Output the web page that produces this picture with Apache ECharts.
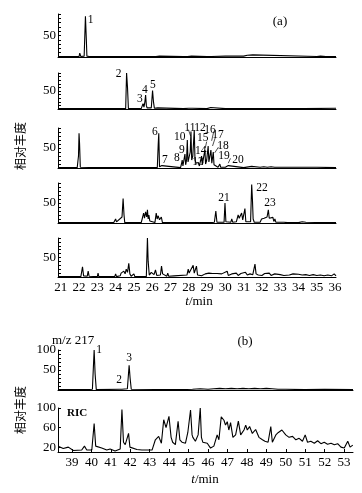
<!DOCTYPE html>
<html>
<head>
<meta charset="utf-8">
<script src="https://cdn.jsdelivr.net/npm/echarts@6/dist/echarts.min.js"></script>
<style>
  html, body { margin: 0; padding: 0; background: #fff; }
  #chart { width: 362px; height: 493px; }
</style>
</head>
<body>
<div id="chart"></div>
<script>
// 刻度
var xTicksA = [21, 22, 23, 24, 25, 26, 27, 28, 29, 30, 31, 32, 33, 34, 35, 36]
var xTicksB = [39, 40, 41, 42, 43, 44, 45, 46, 47, 48, 49, 50, 51, 52, 53]
var yTicks = [0, 10, 20, 30, 40, 50, 60, 70, 80, 90, 100]
var yLabelsA = [50]
var yLabelsB1 = [50, 100]
var yLabelsB2 = [20, 60, 100]

// (a) 五段色谱图 [t, 相对丰度]
var trace1 = [[20.85,1],[22.0,1],[22.04,9],[22.1,1],[22.28,2],[22.35,95],[22.4,40],[22.43,2],[22.5,4],[22.55,1],[23.3,1],[23.33,4],[23.36,1],[24.43,1],[24.45,4],[24.48,1],[26.2,1],[26.3,3],[26.4,2],[27.7,1],[27.72,4],[27.75,1],[27.93,1],[27.95,5],[27.98,1],[28.15,2],[28.2,6],[28.25,2],[29.0,1],[29.03,5],[29.06,1],[29.25,1],[29.27,4],[29.3,2],[30.0,2],[31.0,2],[31.2,4],[31.25,1],[31.5,5],[31.55,1],[35.0,1],[35.2,2],[35.5,1],[36.05,1]]
var trace2 = [[20.85,1],[24.0,1],[24.07,5],[24.12,1],[24.55,1],[24.6,100],[24.65,60],[24.7,1],[25.4,1],[25.45,8],[25.5,15],[25.55,5],[25.6,20],[25.64,39],[25.68,10],[25.72,3],[25.95,3],[26.02,51],[26.07,20],[26.12,2],[26.3,3],[26.35,1],[27.7,1],[28.0,2],[28.1,4],[28.2,2],[29.0,1],[29.03,4],[29.06,1],[29.2,4],[29.25,1],[30.0,1],[34.3,1],[34.4,2],[36.05,2]]
var trace3 = [[20.85,1],[21.9,1],[21.97,30],[22.0,87],[22.03,60],[22.07,2],[23.0,1],[23.03,4],[23.06,1],[24.4,1],[24.43,3],[24.46,1],[26.28,1],[26.33,60],[26.36,87],[26.4,3],[26.5,1],[26.53,6],[26.56,1],[27.55,1],[27.6,10],[27.64,20],[27.68,5],[27.75,10],[27.79,35],[27.83,8],[27.88,20],[27.92,70],[27.96,15],[28.02,10],[28.08,40],[28.12,91],[28.16,20],[28.22,30],[28.3,95],[28.34,20],[28.4,12],[28.44,15],[28.48,8],[28.52,14],[28.58,5],[28.65,10],[28.7,30],[28.74,8],[28.8,12],[28.88,45],[28.92,10],[28.98,20],[29.06,55],[29.1,15],[29.15,20],[29.21,45],[29.26,12],[29.34,40],[29.38,8],[29.45,3],[29.6,2],[29.7,10],[29.74,2],[30.0,2],[30.16,6],[30.2,2],[31.0,1],[31.44,4],[31.5,1],[31.9,2],[32.1,3],[32.3,2],[32.5,3],[32.7,2],[33.0,2],[34.0,2],[35.0,2],[36.05,1]]
var trace4 = [[20.85,1],[22.7,1],[22.77,3],[22.82,1],[23.9,1],[24.0,10],[24.05,3],[24.1,6],[24.15,1],[24.35,15],[24.41,61],[24.46,20],[24.5,1],[25.4,1],[25.48,15],[25.53,25],[25.58,12],[25.64,28],[25.7,15],[25.74,33],[25.78,10],[25.82,20],[25.87,5],[25.92,1],[26.15,1],[26.22,25],[26.27,10],[26.33,18],[26.4,8],[26.5,15],[26.56,1],[28.15,1],[28.2,4],[28.25,1],[29.15,1],[29.2,4],[29.25,1],[29.4,2],[29.48,30],[29.54,2],[29.93,2],[29.98,50],[30.03,3],[30.3,2],[30.35,10],[30.4,2],[30.6,3],[30.7,20],[30.76,12],[30.82,18],[30.89,25],[30.95,8],[31.02,10],[31.07,36],[31.12,3],[31.38,3],[31.44,96],[31.48,60],[31.52,10],[31.58,2],[31.9,2],[31.98,10],[32.05,6],[32.12,12],[32.2,8],[32.28,15],[32.35,33],[32.4,12],[32.5,8],[32.6,14],[32.65,4],[32.71,10],[32.76,2],[33.2,2],[33.3,3],[33.4,1],[34.0,1],[34.2,3],[34.4,2],[35.4,1],[35.45,3],[35.5,1],[36.05,1]]
var trace5 = [[20.85,1],[22.1,1],[22.19,26],[22.25,3],[22.45,2],[22.5,15],[22.55,2],[23.0,1],[23.04,10],[23.08,1],[23.95,1],[24.0,8],[24.05,1],[24.25,3],[24.3,10],[24.38,6],[24.45,15],[24.52,8],[24.58,20],[24.65,12],[24.72,35],[24.78,8],[24.85,2],[24.95,1],[25.0,8],[25.05,1],[25.68,1],[25.74,100],[25.78,40],[25.84,5],[25.95,12],[26.0,8],[26.05,15],[26.1,6],[26.18,18],[26.25,4],[26.45,5],[26.51,28],[26.57,8],[26.65,4],[26.8,2],[26.85,10],[26.9,2],[27.2,3],[27.25,1],[27.9,5],[27.97,20],[28.02,10],[28.1,8],[28.24,30],[28.3,10],[28.36,5],[28.42,28],[28.48,5],[28.7,3],[28.9,8],[29.0,5],[29.1,10],[29.2,6],[29.3,9],[29.4,5],[29.55,9],[29.65,6],[29.8,8],[29.9,4],[30.1,15],[30.16,4],[30.35,8],[30.45,3],[30.6,10],[30.7,4],[30.85,9],[30.95,5],[31.1,12],[31.2,5],[31.35,8],[31.5,6],[31.62,33],[31.68,8],[31.8,5],[31.9,8],[32.0,4],[32.15,9],[32.25,5],[32.4,10],[32.5,4],[32.7,8],[32.8,4],[33.0,6],[33.2,4],[33.3,7],[33.5,5],[33.7,8],[33.8,4],[34.0,7],[34.2,5],[34.4,6],[34.6,4],[34.8,6],[35.0,4],[35.2,5],[35.4,3],[35.6,5],[35.8,3],[35.95,8],[36.05,3]]

// (b) m/z 217 与 RIC
var traceMz = [[38.28,1],[39.6,1],[39.67,4],[39.72,1],[40.05,2],[40.14,100],[40.19,40],[40.25,1],[41.45,2],[41.51,6],[41.57,2],[41.85,3],[41.94,62],[41.99,30],[42.05,2],[42.1,1],[44.5,1],[44.6,3],[44.65,1],[45.2,2],[45.6,3],[46.0,2],[46.3,3],[46.6,4],[46.9,3],[47.2,4],[47.5,3],[47.8,4],[48.1,3],[48.4,4],[48.7,3],[49.0,4],[49.3,3],[49.6,2],[50.0,2],[51.0,1],[52.0,2],[53.46,1]]
var traceRic = [[38.29,22],[38.55,17],[38.81,20],[39.07,13],[39.5,14],[39.64,22],[39.76,14],[40.02,14],[40.14,68],[40.22,22],[40.27,20],[40.53,18],[40.79,14],[40.96,16],[41.22,12],[41.48,16],[41.57,97],[41.65,30],[41.74,25],[41.91,48],[41.98,20],[42.05,18],[42.34,15],[42.6,14],[43.12,14],[43.29,35],[43.46,42],[43.6,28],[43.72,76],[43.84,60],[43.99,83],[44.1,40],[44.18,30],[44.32,25],[44.46,73],[44.55,35],[44.66,30],[44.84,28],[44.96,50],[45.1,96],[45.18,45],[45.22,40],[45.35,32],[45.49,45],[45.6,100],[45.66,40],[45.73,30],[45.96,28],[46.13,18],[46.3,22],[46.47,45],[46.56,35],[46.68,82],[46.82,75],[46.9,65],[46.99,72],[47.07,55],[47.16,70],[47.28,40],[47.42,45],[47.56,73],[47.68,45],[47.85,55],[47.94,65],[48.02,55],[48.14,62],[48.28,48],[48.45,56],[48.62,40],[48.8,35],[48.93,32],[49.09,30],[49.23,62],[49.31,30],[49.49,45],[49.62,50],[49.8,55],[50.0,45],[50.17,40],[50.35,42],[50.52,35],[50.69,38],[50.86,32],[51.0,45],[51.12,30],[51.29,32],[51.47,28],[51.64,33],[51.81,27],[51.98,30],[52.15,26],[52.33,28],[52.5,25],[52.67,27],[52.84,20],[53.01,18],[53.19,32],[53.31,20],[53.45,24]]

// 峰号 [t, 位置, 名称]
var peaks1 = [[22.64, 86, '1']]
var peaks2 = [[24.17, 97, '2'], [25.32, 28, '3'], [25.6, 53, '4'], [26.04, 67, '5']]
var peaks3 = [[26.14, 91, '6'], [26.69, 20, '7'], [27.35, 25, '8'], [27.62, 45, '9'], [27.51, 78, '10'], [28.06, 101, '11'], [28.61, 101, '12'], [28.5, 15, '13'], [28.66, 42, '14'], [28.77, 75, '15'], [29.16, 95, '16'], [29.6, 82, '17'], [29.87, 55, '18'], [29.92, 30, '19'], [30.69, 20, '20']]
var peaks4 = [[29.92, 62, '21'], [32.0, 87, '22'], [32.44, 50, '23']]
var peaksMz = [[40.39, 100, '1'], [41.43, 25, '2'], [41.94, 80, '3']]
// 引线
var leaders3 = [[[27.98, 96], [28.1, 80]], [[28.98, 66], [28.9, 50]], [[29.36, 90], [29.25, 68]], [[29.45, 76], [29.3, 55]], [[29.62, 52], [29.42, 38]], [[30.28, 24], [30.16, 12]]]

const serif = '"Liberation Serif", "DejaVu Serif", serif'
const ink = '#000'
const axisFont = 13

const gridsA = [
    { left: 58, right: 26, top: 14, height: 43 },
    { left: 58, right: 26, top: 73, height: 36 },
    { left: 58, right: 26, top: 128, height: 40 },
    { left: 58, right: 26, top: 183, height: 40 },
    { left: 58, right: 26, top: 238, height: 39 }
]
const gridsB = [
    { left: 58, right: 9, top: 350, height: 40 },
    { left: 58, right: 9, top: 408, height: 44 }
]

let xAxes = [], yAxes = [], series = []

gridsA.forEach((g, i) => {
    xAxes.push({
        type: 'value', gridIndex: i, min: 20.85, max: 36.05,
        axisLine: { onZero: false, lineStyle: { color: ink, width: 1 } },
        axisTick: { show: false },
        splitLine: { show: false },
        axisLabel: {
            show: i === 4, customValues: xTicksA, margin: 4,
            fontFamily: serif, fontSize: axisFont, color: ink
        }
    })
    yAxes.push({
        type: 'value', gridIndex: i, min: 0, max: 100,
        axisLine: { show: true, lineStyle: { color: ink, width: 1 } },
        axisTick: { show: true, inside: true, length: 3, customValues: yTicks, lineStyle: { color: ink } },
        splitLine: { show: false },
        axisLabel: { customValues: yLabelsA, margin: 2, fontFamily: serif, fontSize: axisFont, color: ink }
    })
})

gridsB.forEach((g, j) => {
    let i = j + 5
    xAxes.push({
        type: 'value', gridIndex: i, min: 38.28, max: 53.46,
        axisLine: { onZero: false, lineStyle: { color: ink, width: 1 } },
        axisTick: { show: j === 1, inside: true, length: 3, customValues: xTicksB, lineStyle: { color: ink } },
        splitLine: { show: false },
        axisLabel: {
            show: j === 1, customValues: xTicksB, margin: 4,
            fontFamily: serif, fontSize: axisFont, color: ink
        }
    })
    yAxes.push({
        type: 'value', gridIndex: i, min: j === 0 ? 0 : 10, max: 100,
        axisLine: { show: true, lineStyle: { color: ink, width: 1 } },
        axisTick: { show: true, inside: true, length: 3, customValues: j === 0 ? yTicks : yLabelsB2, lineStyle: { color: ink } },
        splitLine: { show: false },
        axisLabel: { customValues: j === 0 ? yLabelsB1 : yLabelsB2, margin: 2, fontFamily: serif, fontSize: axisFont, color: ink }
    })
})

const traces = [trace1, trace2, trace3, trace4, trace5, traceMz, traceRic]
traces.forEach((d, i) => {
    series.push({
        type: 'line', xAxisIndex: i, yAxisIndex: i, data: d,
        showSymbol: false, symbol: 'none', animation: false,
        lineStyle: { color: ink, width: 1.1 }
    })
})

const peakSets = [[0, peaks1], [1, peaks2], [2, peaks3], [3, peaks4], [5, peaksMz]]
peakSets.forEach(([i, d]) => {
    series.push({
        type: 'scatter', xAxisIndex: i, yAxisIndex: i, data: d,
        symbolSize: 0, clip: false, animation: false, silent: true,
        itemStyle: { opacity: 1, color: ink },
        label: {
            show: true, position: 'inside', formatter: p => p.data[2],
            fontFamily: serif, fontSize: 11.5, color: ink, opacity: 1,
            textBorderWidth: 0
        }
    })
})

// 峰号引线
series.push({
    type: 'line', xAxisIndex: 2, yAxisIndex: 2, data: [], animation: false,
    markLine: {
        silent: true, symbol: 'none', animation: false,
        lineStyle: { color: ink, width: 0.7, type: 'solid' },
        label: { show: false },
        data: leaders3.map(s => [{ coord: s[0] }, { coord: s[1] }])
    }
})

const text = (x, y, str, extra) => Object.assign({
    type: 'text', x: x, y: y,
    style: Object.assign({
        text: str, fontFamily: serif, fontSize: 13, fill: ink,
        align: 'center', verticalAlign: 'middle'
    }, extra || {})
})
const italicT = { rich: { i: { fontStyle: 'italic', fontFamily: serif, fontSize: 13 } } }

const option = {
    backgroundColor: '#fff',
    animation: false,
    grid: gridsA.concat(gridsB),
    xAxis: xAxes,
    yAxis: yAxes,
    series: series,
    graphic: [
        text(280, 22, '(a)'),
        text(245, 342, '(b)'),
        text(52, 341, 'm/z 217', { align: 'left' }),
        text(67, 413, 'RIC', { align: 'left', fontWeight: 'bold', fontSize: 11 }),
        text(199, 302, '{i|t}/min', italicT),
        text(205, 480, '{i|t}/min', italicT),
        Object.assign(text(20, 146, '相对丰度', { fontFamily: '"Noto Sans CJK SC"', fontSize: 12 }), { rotation: Math.PI / 2 }),
        Object.assign(text(20, 410, '相对丰度', { fontFamily: '"Noto Sans CJK SC"', fontSize: 12 }), { rotation: Math.PI / 2 })
    ]
}

const myChart = echarts.init(document.getElementById('chart'))
myChart.setOption(option)
</script>
</body>
</html>
